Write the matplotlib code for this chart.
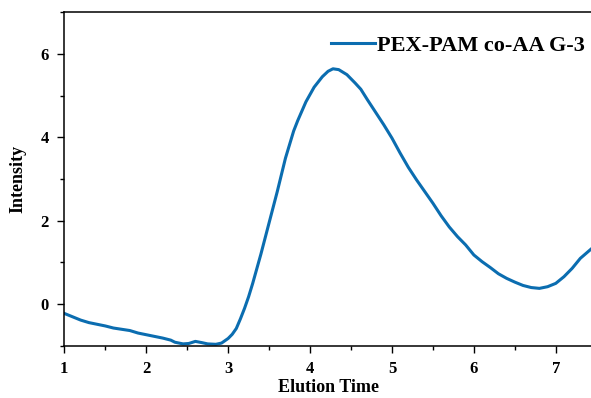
import numpy as np
import matplotlib.pyplot as plt
from matplotlib.ticker import MultipleLocator

# elution time vs intensity
time = [1.00, 1.10, 1.20, 1.30, 1.40, 1.50, 1.60, 1.70, 1.80, 1.90, 2.00, 2.10, 2.20, 2.30,
        2.35, 2.45, 2.52, 2.60, 2.68, 2.75, 2.85, 2.92, 3.00, 3.05, 3.10, 3.15, 3.20, 3.25,
        3.30, 3.35, 3.40, 3.50, 3.60, 3.70, 3.80, 3.85, 3.95, 4.05, 4.15, 4.22, 4.28, 4.35,
        4.45, 4.55, 4.62, 4.70, 4.80, 4.90, 5.00, 5.10, 5.20, 5.30, 5.40, 5.50, 5.60, 5.70,
        5.80, 5.90, 6.00, 6.10, 6.20, 6.30, 6.40, 6.50, 6.60, 6.70, 6.80, 6.90, 7.00, 7.10,
        7.20, 7.30, 7.43]
intensity = [-0.22, -0.30, -0.38, -0.44, -0.48, -0.52, -0.57, -0.60, -0.63, -0.69, -0.73, -0.77,
             -0.81, -0.86, -0.91, -0.95, -0.94, -0.89, -0.92, -0.95, -0.96, -0.93, -0.82, -0.72,
             -0.58, -0.35, -0.10, 0.18, 0.50, 0.85, 1.20, 1.95, 2.70, 3.50, 4.15, 4.40, 4.85,
             5.20, 5.45, 5.58, 5.64, 5.62, 5.50, 5.30, 5.15, 4.90, 4.60, 4.30, 3.98, 3.62, 3.28,
             2.98, 2.70, 2.42, 2.12, 1.85, 1.62, 1.42, 1.18, 1.02, 0.88, 0.73, 0.62, 0.53, 0.45,
             0.40, 0.38, 0.42, 0.50, 0.66, 0.86, 1.10, 1.32]

plt.rcParams['font.family'] = ['Liberation Serif', 'DejaVu Serif']
plt.rcParams['font.weight'] = 'bold'

fig = plt.figure(figsize=(5.91, 3.98), dpi=100)
ax = fig.add_axes([0.1088, 0.1307, 0.8912, 0.8391])

ax.plot(time, intensity, color='#0B6DB0', lw=2.2, label='PEX-PAM co-AA G-3')

ax.set_xlim(1, 7.43)
ax.set_ylim(-1, 7)
ax.xaxis.set_major_locator(MultipleLocator(1))
ax.xaxis.set_minor_locator(MultipleLocator(0.5))
ax.yaxis.set_major_locator(MultipleLocator(2))
ax.yaxis.set_minor_locator(MultipleLocator(1))
ax.tick_params(which='major', direction='out', length=5, width=1, labelsize=12, pad=6)
ax.tick_params(which='minor', direction='out', length=3, width=1)
ax.spines['right'].set_visible(False)
for s in ['left', 'bottom', 'top']:
    ax.spines[s].set_linewidth(1.1)

# x label sits right at the bottom edge in the original
fig.text(0.556, 0.014, 'Elution Time', fontsize=13, fontweight='bold',
         ha='center', va='baseline')
ax.set_ylabel('Intensity', fontsize=13, fontweight='bold', labelpad=10)

ax.legend(loc='upper right', bbox_to_anchor=(1.027, 0.99), frameon=False,
          prop={'size': 16, 'weight': 'bold'}, handlelength=2.0, handletextpad=0.1)

fig.savefig('out.png', dpi=100)
